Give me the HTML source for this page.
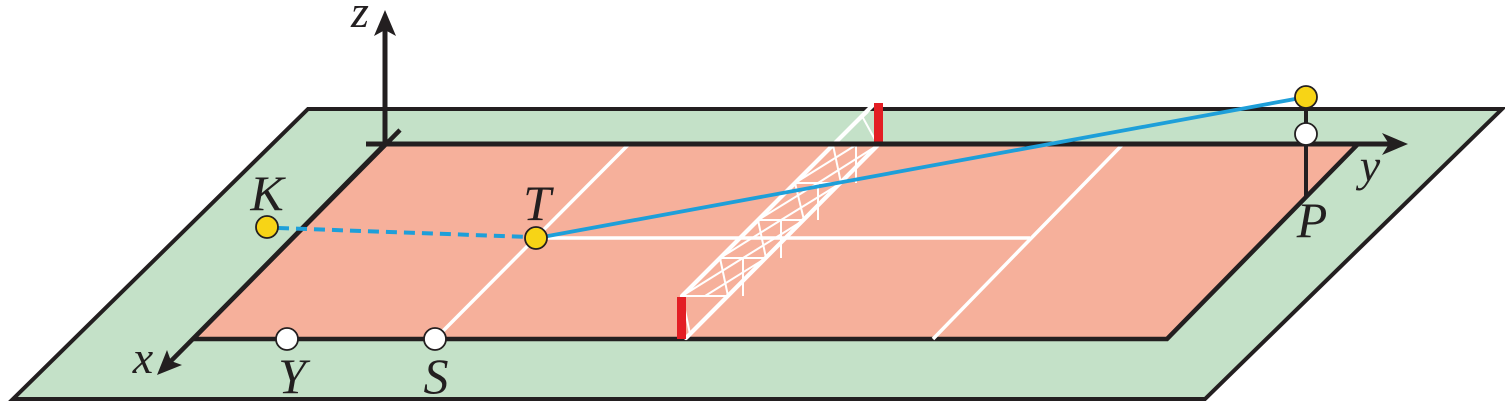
<!DOCTYPE html>
<html><head><meta charset="utf-8">
<style>
html,body{margin:0;padding:0;background:#fff;}
svg{display:block;}
.lb{font-family:"Liberation Serif","Noto Serif CJK SC","DejaVu Serif",serif;font-style:italic;fill:#231f20;}
</style></head>
<body>
<svg width="1505" height="410" viewBox="0 0 1505 410" xmlns="http://www.w3.org/2000/svg">
  <!-- outer green -->
  <polygon points="308,109 1502,109 1205,399 13,399" fill="#c4e1c8" stroke="#231f20" stroke-width="4" stroke-linejoin="miter"/>
  <!-- court -->
  <polygon points="385,144 1358,144 1167,339 193,339" fill="#f6b09b" stroke="#231f20" stroke-width="4.5" stroke-linejoin="miter"/>

  <!-- white court lines -->
  <g stroke="#ffffff" stroke-width="3.5" fill="none">
    <line x1="435" y1="339" x2="629" y2="144"/>
    <line x1="537" y1="238" x2="1030" y2="238"/>
    <line x1="933" y1="339" x2="1123" y2="144"/>
  </g>

  <!-- net lattice -->
  <g stroke="#ffffff" stroke-width="2" fill="none">
    <line x1="682" y1="296" x2="728" y2="296"/>
    <line x1="720" y1="258" x2="766" y2="258"/>
    <line x1="758" y1="220" x2="804" y2="220"/>
    <line x1="795" y1="183" x2="841" y2="183"/>
    <line x1="833" y1="145" x2="878" y2="145"/>
    <line x1="682" y1="296" x2="690" y2="334"/>
    <line x1="728" y1="296" x2="688" y2="336"/>
    <line x1="682" y1="296" x2="743" y2="258"/>
    <line x1="728" y1="296" x2="720" y2="258"/>
    <line x1="705" y1="296" x2="766" y2="258"/>
    <line x1="720" y1="258" x2="781" y2="220"/>
    <line x1="766" y1="258" x2="758" y2="220"/>
    <line x1="743" y1="258" x2="804" y2="220"/>
    <line x1="758" y1="220" x2="818" y2="183"/>
    <line x1="804" y1="220" x2="795" y2="183"/>
    <line x1="781" y1="220" x2="841" y2="183"/>
    <line x1="795" y1="183" x2="856" y2="145"/>
    <line x1="841" y1="183" x2="833" y2="145"/>
    <line x1="818" y1="183" x2="878" y2="145"/>
    <line x1="833" y1="145" x2="868" y2="112"/>
    <line x1="878" y1="145" x2="862" y2="116"/>
    <line x1="743" y1="258" x2="743" y2="296"/>
    <line x1="781" y1="220" x2="781" y2="258"/>
    <line x1="818" y1="183" x2="818" y2="220"/>
    <line x1="856" y1="145" x2="856" y2="183"/>
  </g>
  <g stroke="#ffffff" stroke-width="4.2" fill="none" stroke-linecap="round">
    <line x1="682" y1="296" x2="874" y2="104"/>
    <line x1="686" y1="338" x2="878" y2="145"/>
  </g>
  <!-- red posts -->
  <rect x="677" y="297" width="9" height="42" fill="#e31e24"/>
  <rect x="874" y="103" width="9" height="40" fill="#e31e24"/>

  <!-- y axis (top line) -->
  <line x1="366" y1="144" x2="1390" y2="144" stroke="#231f20" stroke-width="5"/>
  <polygon points="1408,144 1382,133 1389,144 1382,155" fill="#231f20"/>
  <!-- z axis -->
  <line x1="385" y1="146" x2="385" y2="28" stroke="#231f20" stroke-width="5"/>
  <polygon points="385,10 374,36 385,30 396,36" fill="#231f20"/>
  <!-- x axis -->
  <line x1="400" y1="130" x2="170" y2="362" stroke="#231f20" stroke-width="4.5"/>
  <polygon points="157,375 167,350 171,361 182,365" fill="#231f20"/>

  <!-- P vertical -->
  <line x1="1306" y1="97" x2="1306" y2="198" stroke="#231f20" stroke-width="4"/>

  <!-- blue lines -->
  <line x1="278" y1="228" x2="530" y2="237" stroke="#1e9fd9" stroke-width="4" stroke-dasharray="11 7"/>
  <line x1="537" y1="238" x2="1306" y2="97" stroke="#1e9fd9" stroke-width="3.8"/>

  <!-- points -->
  <g stroke="#231f20" stroke-width="1.8">
    <circle cx="267" cy="227" r="11" fill="#f7d416"/>
    <circle cx="536" cy="238" r="11" fill="#f7d416"/>
    <circle cx="1306" cy="97" r="11" fill="#f7d416"/>
    <circle cx="1306" cy="134" r="11" fill="#ffffff"/>
    <circle cx="287" cy="339" r="11" fill="#ffffff"/>
    <circle cx="435" cy="339" r="11" fill="#ffffff"/>
  </g>

  <!-- labels -->
  <g>
    <text class="lb" x="360" y="27" font-size="46" text-anchor="middle">z</text>
    <text class="lb" x="143" y="373" font-size="46" text-anchor="middle">x</text>
    <text class="lb" x="1370" y="181" font-size="46" text-anchor="middle">y</text>
    <text class="lb" x="267" y="210" font-size="50" text-anchor="middle">K</text>
    <text class="lb" x="537" y="220" font-size="50" text-anchor="middle">T</text>
    <text class="lb" x="292" y="393" font-size="50" text-anchor="middle">Y</text>
    <text class="lb" x="436" y="393" font-size="50" text-anchor="middle">S</text>
    <text class="lb" x="1312" y="237" font-size="50" text-anchor="middle">P</text>
  </g>
</svg>
</body></html>
